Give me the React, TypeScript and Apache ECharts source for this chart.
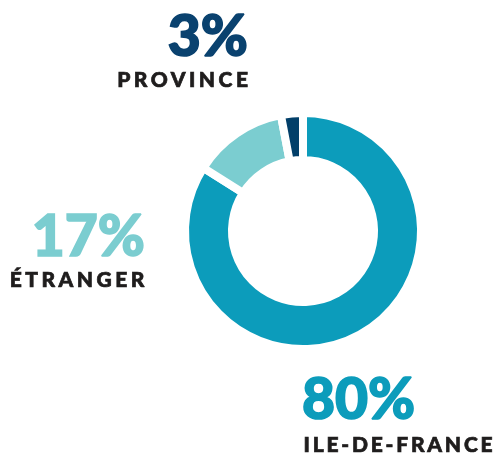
import React, { useEffect, useRef } from "react";
import * as echarts from "echarts";

// Categories and values
const categories = ["ILE-DE-FRANCE", "ÉTRANGER", "PROVINCE"];
const shareLabels = ["80%", "17%", "3%"];
// Arc shares as drawn in the picture (the printed labels read 80/17/3)
const arcShares = [84, 13, 3];
const sliceColors = ["#0c9cbb", "#7bcdd0", "#023f69"];
const labelColors = ["#0c9cbb", "#7bcdd0", "#0a426f"];
const labelSpacing = [2.8, 3.5, 3.5];

const FONT = "Lato, 'Open Sans', sans-serif";
const CAT_COLOR = "#1f1d1d";

export default function App() {
  const ref = useRef<HTMLDivElement>(null);

  useEffect(() => {
    if (!ref.current) return;
    const chart = echarts.init(ref.current, undefined, { renderer: "svg" });

    const numStyle = (i: number) => ({
      text: shareLabels[i],
      fill: labelColors[i],
      stroke: labelColors[i],
      lineWidth: 1.6,
      font: `900 57px ${FONT}`,
      verticalAlign: "middle",
    });
    const catStyle = (i: number) => ({
      text: categories[i],
      fill: CAT_COLOR,
      stroke: CAT_COLOR,
      lineWidth: 0.7,
      font: `900 21px ${FONT}`,
      verticalAlign: "middle",
    });

    chart.setOption({
      animation: false,
      series: [
        {
          type: "pie",
          center: [303, 231],
          radius: [71, 118],
          startAngle: 90,
          clockwise: true,
          label: { show: false },
          labelLine: { show: false },
          emphasis: { disabled: true },
          itemStyle: { borderColor: "#ffffff", borderWidth: 8 },
          data: categories.map((c, i) => ({
            name: c,
            value: arcShares[i],
            itemStyle: { color: sliceColors[i] },
          })),
        },
      ],
      graphic: [
        // Province (top)
        { type: "text", x: 248, y: 34, style: { ...numStyle(2), align: "right" } },
        { type: "text", x: 248 + labelSpacing[2], y: 78, style: { ...catStyle(2), align: "right" } },
        // Étranger (left)
        { type: "text", x: 145, y: 234, style: { ...numStyle(1), align: "right" } },
        { type: "text", x: 144.5 + labelSpacing[1], y: 278, style: { ...catStyle(1), align: "right" } },
        // Ile-de-France (bottom)
        { type: "text", x: 302, y: 397, style: { ...numStyle(0), align: "left" } },
        { type: "text", x: 303.5, y: 443, style: { ...catStyle(0), align: "left" } },
      ],
    });

    const texts = ref.current.querySelectorAll("text");
    texts.forEach((t) => {
      const idx = categories.indexOf((t.textContent || "").trim());
      if (idx >= 0) {
        t.setAttribute("letter-spacing", String(labelSpacing[idx]));
      }
    });

    return () => chart.dispose();
  }, []);

  return (
    <div
      ref={ref}
      style={{ position: "fixed", left: 0, top: 0, width: 500, height: 455 }}
    />
  );
}
